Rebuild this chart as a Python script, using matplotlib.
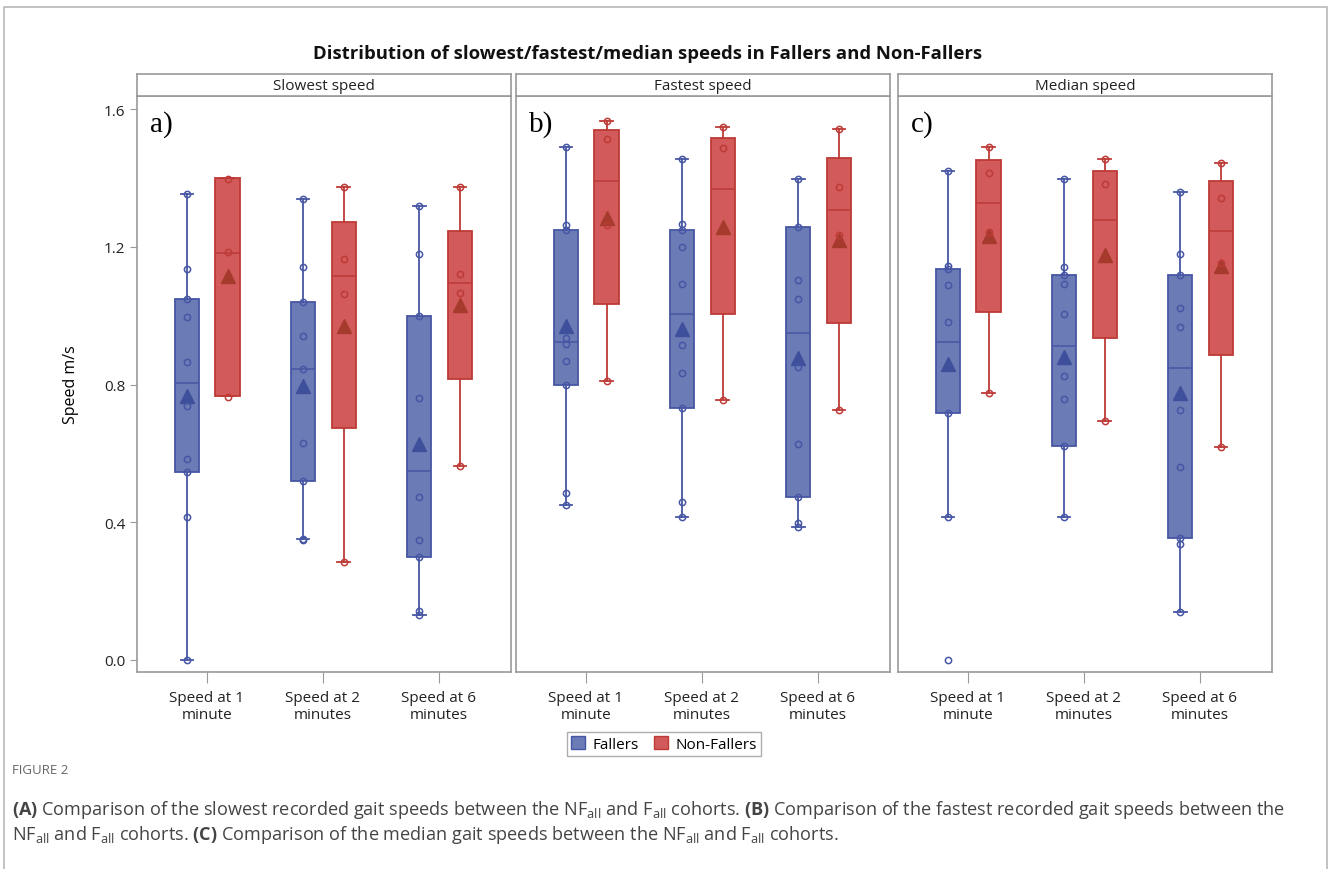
import matplotlib
matplotlib.use("Agg")
import matplotlib.pyplot as plt
from matplotlib.patches import Patch
from matplotlib.lines import Line2D

plt.rcParams['font.family'] = ['Open Sans', 'DejaVu Sans']
plt.rcParams['mathtext.fontset'] = 'custom'
plt.rcParams['mathtext.rm'] = 'Open Sans'
plt.rcParams['mathtext.bf'] = 'Open Sans:bold'

categories = ["Speed at 1\nminute", "Speed at 2\nminutes", "Speed at 6\nminutes"]
panel_titles = ["Slowest speed", "Fastest speed", "Median speed"]
panel_letters = ["a)", "b)", "c)"]
groups = ["Fallers", "Non-Fallers"]

# each row: [whisker low, Q1, median, Q3, whisker high, mean] for 1, 2, 6 minutes
slow_fallers = [[0.000, 0.545, 0.803, 1.049, 1.353, 0.767],
                [0.351, 0.521, 0.844, 1.039, 1.338, 0.795],
                [0.130, 0.299, 0.549, 1.000, 1.318, 0.626]]
slow_fallers_pts = [[0.0, 0.416, 0.545, 0.584, 0.739, 0.864, 0.995, 1.049, 1.135, 1.353],
                    [0.348, 0.352, 0.521, 0.631, 0.844, 0.942, 1.039, 1.140, 1.338],
                    [0.130, 0.141, 0.299, 0.349, 0.474, 0.761, 1.000, 1.179, 1.318]]
slow_nonfallers = [[0.767, 0.767, 1.181, 1.399, 1.399, 1.116],
                   [0.284, 0.675, 1.116, 1.271, 1.375, 0.971],
                   [0.562, 0.816, 1.094, 1.247, 1.375, 1.031]]
slow_nonfallers_pts = [[0.765, 1.184, 1.397],
                       [0.284, 1.063, 1.166, 1.375],
                       [0.562, 1.065, 1.120, 1.375]]

fast_fallers = [[0.450, 0.800, 0.924, 1.250, 1.490, 0.969],
                [0.416, 0.732, 1.004, 1.250, 1.456, 0.961],
                [0.386, 0.473, 0.951, 1.257, 1.396, 0.877]]
fast_fallers_pts = [[0.450, 0.484, 0.800, 0.868, 0.917, 0.934, 1.250, 1.263, 1.490],
                    [0.416, 0.460, 0.732, 0.834, 0.916, 1.092, 1.200, 1.250, 1.266, 1.456],
                    [0.386, 0.397, 0.473, 0.627, 0.852, 1.049, 1.105, 1.258, 1.396]]
fast_nonfallers = [[0.810, 1.035, 1.390, 1.539, 1.565, 1.285],
                   [0.756, 1.004, 1.368, 1.517, 1.549, 1.258],
                   [0.725, 0.979, 1.307, 1.458, 1.541, 1.220]]
fast_nonfallers_pts = [[0.810, 1.263, 1.514, 1.565],
                       [0.756, 1.486, 1.549],
                       [0.725, 1.233, 1.374, 1.541]]

med_fallers = [[0.416, 0.716, 0.924, 1.136, 1.421, 0.860],
               [0.416, 0.622, 0.913, 1.118, 1.396, 0.880],
               [0.140, 0.355, 0.848, 1.118, 1.359, 0.775]]
med_fallers_pts = [[0.001, 0.416, 0.716, 0.983, 1.089, 1.136, 1.145, 1.421],
                   [0.416, 0.622, 0.759, 0.824, 1.005, 1.092, 1.118, 1.140, 1.396],
                   [0.140, 0.337, 0.355, 0.560, 0.727, 0.967, 1.022, 1.118, 1.179, 1.359]]
med_nonfallers = [[0.775, 1.011, 1.328, 1.452, 1.490, 1.231],
                  [0.695, 0.935, 1.278, 1.421, 1.456, 1.176],
                  [0.618, 0.885, 1.247, 1.390, 1.442, 1.143]]
med_nonfallers_pts = [[0.775, 1.244, 1.414, 1.490],
                      [0.695, 1.383, 1.456],
                      [0.618, 1.154, 1.341, 1.442]]

yticks = [0.0, 0.4, 0.8, 1.2, 1.6]

fill_colors = ["#6b7bb5", "#d25a5a"]
edge_colors = ["#4656a4", "#bd3a36"]
mean_colors = ["#3e4f9c", "#a63a2c"]
offsets = [-0.17, 0.18]

panel_data = [
    [(slow_fallers, slow_fallers_pts), (slow_nonfallers, slow_nonfallers_pts)],
    [(fast_fallers, fast_fallers_pts), (fast_nonfallers, fast_nonfallers_pts)],
    [(med_fallers, med_fallers_pts), (med_nonfallers, med_nonfallers_pts)],
]

W, H = 1328, 870
fig = plt.figure(figsize=(W / 100, H / 100), dpi=100)

# page frame
fig.add_artist(Line2D([4 / W, 4 / W, 1327 / W, 1327 / W], [0, 1 - 8 / H, 1 - 8 / H, 0],
                      transform=fig.transFigure, color="#b8b8b8", lw=1.2))

lefts = [137, 516, 898]
pw = 374
ax_top, ax_bot = 97, 673
head_top = 75
frame_col = "#9a9a9a"

for i, left in enumerate(lefts):
    ax = fig.add_axes([left / W, 1 - ax_bot / H, pw / W, (ax_bot - ax_top) / H])
    for g in range(2):
        stats_rows, pts_rows = panel_data[i][g]
        stats = []
        for row in stats_rows:
            stats.append(dict(whislo=row[0], q1=row[1], med=row[2], q3=row[3],
                              whishi=row[4], mean=row[5], fliers=[]))
        pos = [k + 1 + offsets[g] for k in range(3)]
        ax.bxp(stats, positions=pos, widths=0.21, patch_artist=True, showmeans=True,
               showfliers=False,
               boxprops=dict(facecolor=fill_colors[g], edgecolor=edge_colors[g], lw=1.3),
               medianprops=dict(color=edge_colors[g], lw=1.1),
               whiskerprops=dict(color=edge_colors[g], lw=1.3),
               capprops=dict(color=edge_colors[g], lw=1.3),
               capwidths=0.11,
               meanprops=dict(marker="^", markerfacecolor=mean_colors[g],
                              markeredgecolor=mean_colors[g], markersize=10),
               zorder=2)
        for k, pts in enumerate(pts_rows):
            ax.plot([pos[k]] * len(pts), pts, ls="none", marker="o", ms=4.5,
                    mfc="none", mec=edge_colors[g], mew=1.1, zorder=3)

    ax.set_xlim(0.4, 3.62)
    ax.set_ylim(-0.035, 1.638)
    ax.set_xticks([1, 2, 3])
    ax.set_xticklabels(categories, fontsize=11, color="#222222", linespacing=1.15)
    ax.tick_params(axis="x", length=8, color=frame_col, pad=5)
    if i == 0:
        ax.set_yticks(yticks)
        ax.set_yticklabels([f"{v:.1f}" for v in yticks], fontsize=11, color="#222222")
        ax.tick_params(axis="y", length=5, color=frame_col)
        ax.set_ylabel("Speed m/s", fontsize=11.5, labelpad=18)
    else:
        ax.set_yticks([])
    for s in ax.spines.values():
        s.set_color(frame_col)
        s.set_linewidth(1.2)
    ax.text(0.035, 0.975, panel_letters[i], transform=ax.transAxes, ha="left", va="top",
            fontsize=21, family="Liberation Serif")

    # header strip
    hax = fig.add_axes([left / W, 1 - ax_top / H, pw / W, (ax_top - head_top) / H])
    hax.set_xticks([])
    hax.set_yticks([])
    for s in hax.spines.values():
        s.set_color(frame_col)
        s.set_linewidth(1.2)
    hax.text(0.5, 0.5, panel_titles[i], ha="center", va="center", fontsize=11,
             color="#222222", transform=hax.transAxes)

fig.text(648 / W, 1 - 54 / H,
         "Distribution of slowest/fastest/median speeds in Fallers and Non-Fallers",
         ha="center", va="center", fontsize=13.3, fontweight="bold", color="#111111")

handles = [Patch(facecolor=fill_colors[g], edgecolor=edge_colors[g], label=groups[g])
           for g in range(2)]
leg = fig.legend(handles=handles, loc="center", bbox_to_anchor=(664 / W, 1 - 745 / H),
                 ncol=2, fontsize=11, frameon=True, fancybox=False, handlelength=0.9,
                 handleheight=0.9, handletextpad=0.5, columnspacing=1.0,
                 borderpad=0.3, edgecolor="#999999")
leg.get_frame().set_linewidth(1.0)

fig.text(12 / W, 1 - 771 / H, "FIGURE 2", fontsize=9.5, color="#666666", va="center")
fig.text(12 / W, 1 - 810 / H,
         r"$\mathbf{(A)}$ Comparison of the slowest recorded gait speeds between the "
         r"NF$_{\rm all}$ and F$_{\rm all}$ cohorts. $\mathbf{(B)}$ Comparison of the "
         r"fastest recorded gait speeds between the",
         fontsize=13.1, color="#444444", va="center")
fig.text(12 / W, 1 - 835 / H,
         r"NF$_{\rm all}$ and F$_{\rm all}$ cohorts. $\mathbf{(C)}$ Comparison of the "
         r"median gait speeds between the NF$_{\rm all}$ and F$_{\rm all}$ cohorts.",
         fontsize=13.1, color="#444444", va="center")

fig.savefig("out.png", dpi=100)
